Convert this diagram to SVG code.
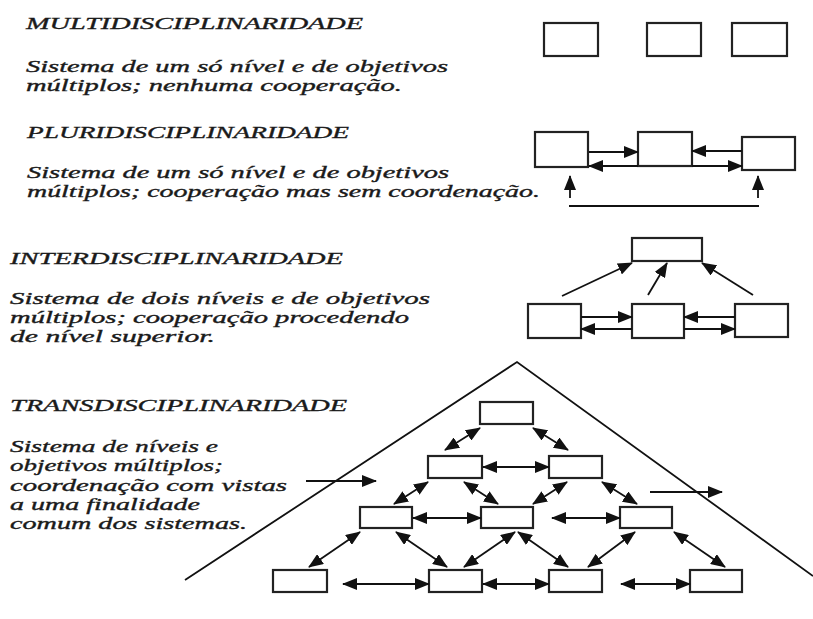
<svg xmlns="http://www.w3.org/2000/svg" width="813" height="619" viewBox="0 0 813 619">
<style>
text{font-family:"Liberation Serif","Times New Roman",serif;font-style:italic;font-size:17px;fill:#1a1a1a;stroke:#1a1a1a;stroke-width:0.35}
.b{fill:#fff;stroke:#222;stroke-width:2.2}
.c{stroke:#111;stroke-width:1.8;fill:none}
.a{marker-end:url(#ah)}
.d{marker-start:url(#ah);marker-end:url(#ah)}
</style>
<defs>
<marker id="ah" markerUnits="userSpaceOnUse" markerWidth="15" markerHeight="12" refX="14" refY="6" orient="auto-start-reverse" viewBox="0 0 15 12">
<path d="M0,0 L15,6 L0,12 z" fill="#111"/>
</marker>
</defs>
<rect width="813" height="619" fill="#fff"/>

<g id="texts">
<text x="26" y="29" textLength="337" lengthAdjust="spacingAndGlyphs">MULTIDISCIPLINARIDADE</text>
<text x="26" y="72" textLength="422" lengthAdjust="spacingAndGlyphs">Sistema de um só nível e de objetivos</text>
<text x="26" y="91" textLength="376" lengthAdjust="spacingAndGlyphs">múltiplos; nenhuma cooperação.</text>

<text x="27" y="138" textLength="322" lengthAdjust="spacingAndGlyphs">PLURIDISCIPLINARIDADE</text>
<text x="27" y="178" textLength="422" lengthAdjust="spacingAndGlyphs">Sistema de um só nível e de objetivos</text>
<text x="27" y="197" textLength="513" lengthAdjust="spacingAndGlyphs">múltiplos; cooperação mas sem coordenação.</text>

<text x="10" y="264" textLength="333" lengthAdjust="spacingAndGlyphs">INTERDISCIPLINARIDADE</text>
<text x="10" y="304" textLength="420" lengthAdjust="spacingAndGlyphs">Sistema de dois níveis e de objetivos</text>
<text x="10" y="323" textLength="399" lengthAdjust="spacingAndGlyphs">múltiplos; cooperação procedendo</text>
<text x="10" y="342" textLength="205" lengthAdjust="spacingAndGlyphs">de nível superior.</text>

<text x="10" y="411" textLength="337" lengthAdjust="spacingAndGlyphs">TRANSDISCIPLINARIDADE</text>
<text x="10" y="452" textLength="208" lengthAdjust="spacingAndGlyphs">Sistema de níveis e</text>
<text x="10" y="471" textLength="213" lengthAdjust="spacingAndGlyphs">objetivos múltiplos;</text>
<text x="10" y="491" textLength="277" lengthAdjust="spacingAndGlyphs">coordenação com vistas</text>
<text x="10" y="510" textLength="190" lengthAdjust="spacingAndGlyphs">a uma finalidade</text>
<text x="10" y="529" textLength="237" lengthAdjust="spacingAndGlyphs">comum dos sistemas.</text>
</g>

<!-- Multidisciplinaridade -->
<g id="m1"><rect class="b" x="544" y="23" width="54" height="33"/></g>
<g id="m2"><rect class="b" x="647" y="23" width="54" height="33"/></g>
<g id="m3"><rect class="b" x="732" y="23" width="55" height="33"/></g>

<!-- Pluridisciplinaridade -->
<g id="p1"><rect class="b" x="535" y="132" width="53" height="35"/></g>
<g id="p2"><rect class="b" x="638" y="132" width="54" height="34"/></g>
<g id="p3"><rect class="b" x="742" y="137" width="53" height="33"/></g>

<!-- Interdisciplinaridade -->
<g id="i0"><rect class="b" x="632" y="238" width="70" height="23"/></g>
<g id="i1"><rect class="b" x="528" y="304" width="53" height="34"/></g>
<g id="i2"><rect class="b" x="632" y="304" width="52" height="34"/></g>
<g id="i3"><rect class="b" x="735" y="304" width="53" height="33"/></g>

<!-- Transdisciplinaridade -->
<g id="t1"><rect class="b" x="480" y="402" width="53" height="22"/></g>
<g id="t21"><rect class="b" x="428" y="456" width="54" height="22"/></g>
<g id="t22"><rect class="b" x="549" y="456" width="53" height="22"/></g>
<g id="t31"><rect class="b" x="360" y="507" width="52" height="21"/></g>
<g id="t32"><rect class="b" x="481" y="507" width="52" height="21"/></g>
<g id="t33"><rect class="b" x="620" y="507" width="52" height="21"/></g>
<g id="t41"><rect class="b" x="273" y="570" width="54" height="22"/></g>
<g id="t42"><rect class="b" x="429" y="570" width="53" height="22"/></g>
<g id="t43"><rect class="b" x="549" y="570" width="53" height="22"/></g>
<g id="t44"><rect class="b" x="690" y="570" width="52" height="22"/></g>

<g id="connectors">
<!-- pluri -->
<line class="c a" x1="589" y1="152" x2="638" y2="152"/>
<line class="c a" x1="638" y1="166" x2="589" y2="166"/>
<line class="c a" x1="742" y1="151" x2="692" y2="151"/>
<line class="c a" x1="692" y1="166" x2="742" y2="166"/>
<line class="c a" x1="570" y1="198" x2="570" y2="176"/>
<line class="c a" x1="758" y1="198" x2="758" y2="176"/>
<line class="c" x1="569" y1="206" x2="759" y2="206"/>
<!-- inter -->
<line class="c a" x1="581" y1="317" x2="632" y2="317"/>
<line class="c a" x1="632" y1="329" x2="581" y2="329"/>
<line class="c a" x1="735" y1="317" x2="684" y2="317"/>
<line class="c a" x1="684" y1="329" x2="735" y2="329"/>
<line class="c a" x1="562" y1="296" x2="632" y2="263"/>
<line class="c a" x1="648" y1="295" x2="667" y2="263"/>
<line class="c a" x1="753" y1="295" x2="702" y2="263"/>
<!-- pyramid -->
<polyline class="c" points="185,580 517,362 813,576"/>
<line class="c a" x1="306" y1="481" x2="376" y2="481"/>
<line class="c a" x1="650" y1="492" x2="722" y2="492"/>
<line class="c d" x1="480" y1="428" x2="445" y2="450"/>
<line class="c d" x1="533" y1="428" x2="568" y2="450"/>
<line class="c d" x1="483" y1="467" x2="549" y2="467"/>
<line class="c d" x1="428" y1="482" x2="394" y2="504"/>
<line class="c d" x1="464" y1="482" x2="498" y2="504"/>
<line class="c d" x1="567" y1="482" x2="533" y2="504"/>
<line class="c d" x1="602" y1="482" x2="637" y2="504"/>
<line class="c d" x1="413" y1="518" x2="481" y2="518"/>
<line class="c d" x1="552" y1="518" x2="620" y2="518"/>
<line class="c d" x1="360" y1="532" x2="309" y2="567"/>
<line class="c d" x1="396" y1="532" x2="447" y2="567"/>
<line class="c d" x1="515" y1="532" x2="464" y2="567"/>
<line class="c d" x1="518" y1="532" x2="568" y2="567"/>
<line class="c d" x1="635" y1="532" x2="588" y2="567"/>
<line class="c d" x1="674" y1="532" x2="725" y2="567"/>
<line class="c d" x1="343" y1="584" x2="429" y2="584"/>
<line class="c d" x1="483" y1="584" x2="549" y2="584"/>
<line class="c d" x1="621" y1="584" x2="690" y2="584"/>
</g>
</svg>
